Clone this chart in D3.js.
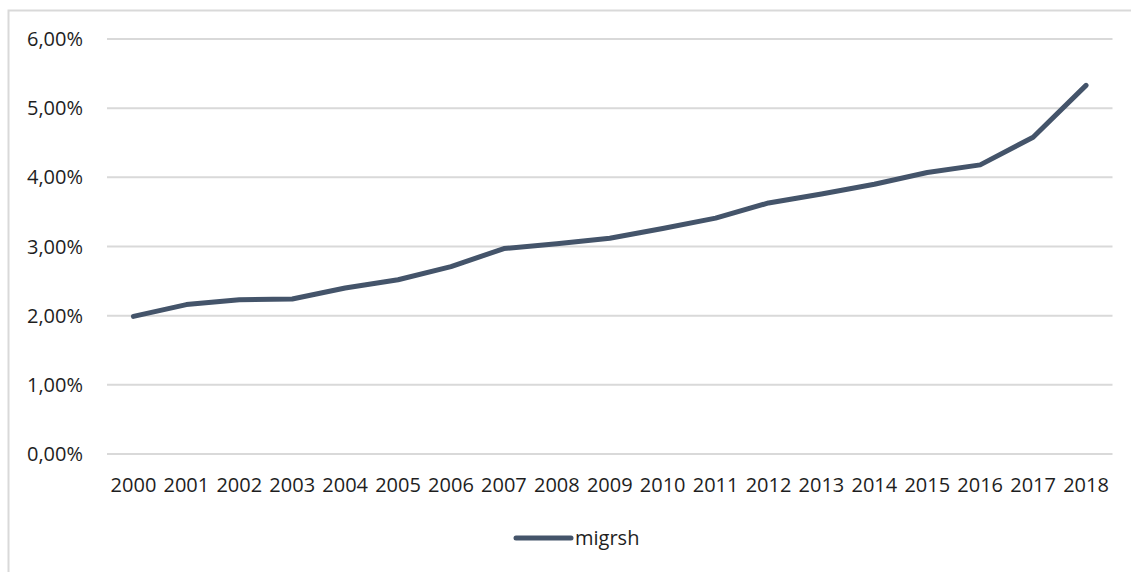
<!DOCTYPE html>
<html>
<head>
<meta charset="utf-8">
<script src="https://cdn.jsdelivr.net/npm/d3@7"></script>
<style>
  body { margin: 0; background: #fff; }
  svg { display: block; }
</style>
</head>
<body>
<svg id="chart"></svg>
<script>
// data
const years = ["2000","2001","2002","2003","2004","2005","2006","2007","2008","2009",
               "2010","2011","2012","2013","2014","2015","2016","2017","2018"]
const migrsh = [0.0199, 0.0216, 0.0223, 0.0224, 0.0240, 0.0252, 0.0271, 0.0297, 0.0304, 0.0312,
                0.0326, 0.0341, 0.0363, 0.0376, 0.0390, 0.0407, 0.0418, 0.0458, 0.0533]
const yTicks = [0, 0.01, 0.02, 0.03, 0.04, 0.05, 0.06]
const seriesName = "migrsh"

const width = 1131
const height = 572
const font = "'Open Sans', sans-serif"
const textColor = "#1e1e1e"
const lineColor = "#44546a"

const svg = d3.select("#chart")
    .attr("width", width)
    .attr("height", height)

// chart area border (cropped on the right and bottom)
svg.append("rect")
    .attr("x", 8.5)
    .attr("y", 10.5)
    .attr("width", width + 20)
    .attr("height", height + 20)
    .attr("fill", "#fff")
    .attr("stroke", "#d9d9d9")
    .attr("stroke-width", 2)

const x = d3.scaleBand().domain(years).range([107, 1112.5])
const y = d3.scaleLinear().domain([0, 0.06]).range([454, 39])

const fmt = v => d3.format(".2f")(v * 100).replace(".", ",") + "%"

// gridlines
svg.append("g")
    .selectAll("line")
    .data(yTicks)
    .join("line")
    .attr("x1", x.range()[0])
    .attr("x2", x.range()[1])
    .attr("y1", d => y(d))
    .attr("y2", d => y(d))
    .attr("stroke", "#d9d9d9")
    .attr("stroke-width", 2)

// y labels
svg.append("g")
    .selectAll("text")
    .data(yTicks)
    .join("text")
    .attr("x", 83)
    .attr("y", d => y(d))
    .attr("dy", "0.35em")
    .attr("text-anchor", "end")
    .style("font", `20px ${font}`)
    .attr("fill", textColor)
    .text(fmt)

// x labels
svg.append("g")
    .selectAll("text")
    .data(years)
    .join("text")
    .attr("x", d => x(d) + x.bandwidth() / 2)
    .attr("y", 485)
    .attr("dy", "0.35em")
    .attr("text-anchor", "middle")
    .style("font", `20px ${font}`)
    .attr("fill", textColor)
    .text(d => d)

// the line
const line = d3.line()
    .x((d, i) => x(years[i]) + x.bandwidth() / 2)
    .y(d => y(d))

svg.append("path")
    .datum(migrsh)
    .attr("d", line)
    .attr("fill", "none")
    .attr("stroke", lineColor)
    .attr("stroke-width", 5)
    .attr("stroke-linecap", "round")
    .attr("stroke-linejoin", "round")

// legend
const legend = svg.append("g").attr("transform", "translate(516,538)")
legend.append("line")
    .attr("x1", 0)
    .attr("x2", 55)
    .attr("stroke", lineColor)
    .attr("stroke-width", 5)
    .attr("stroke-linecap", "round")
legend.append("text")
    .attr("x", 59)
    .attr("dy", "0.35em")
    .style("font", `20px ${font}`)
    .attr("fill", textColor)
    .text(seriesName)
</script>
</body>
</html>
